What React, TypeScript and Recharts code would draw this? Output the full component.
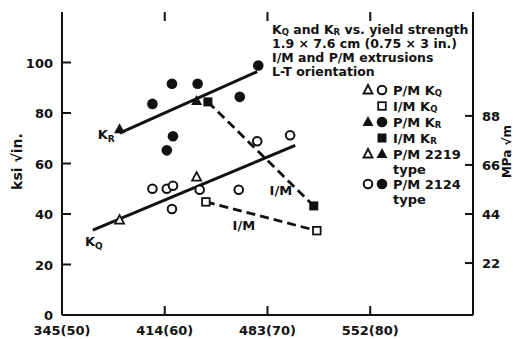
import React from 'react';
import { ComposedChart, Scatter, XAxis, YAxis, Legend } from 'recharts';

const FONT = '"DejaVu Sans", Verdana, sans-serif';
const INK = '#111';
const TOP = 12; // chart top margin = upper frame line

// yield strength (ksi) vs toughness (ksi sqrt(in.))
const pmKqCircles = [
  { x: 58.8, y: 50 },
  { x: 60.2, y: 50 },
  { x: 60.8, y: 51.2 },
  { x: 60.7, y: 42 },
  { x: 63.4, y: 49.6 },
  { x: 67.2, y: 49.6 },
  { x: 69.0, y: 68.8 },
  { x: 72.2, y: 71.2 },
];
const pmKqTriangles = [
  { x: 55.6, y: 37.6 },
  { x: 63.1, y: 54.6 },
];
const imKqSquares = [
  { x: 64.0, y: 44.8 },
  { x: 74.8, y: 33.4 },
];
const pmKrCircles = [
  { x: 58.8, y: 83.6 },
  { x: 60.7, y: 91.6 },
  { x: 63.2, y: 91.6 },
  { x: 60.8, y: 70.8 },
  { x: 60.2, y: 65.2 },
  { x: 67.3, y: 86.4 },
  { x: 69.1, y: 98.8 },
];
const pmKrTriangles = [
  { x: 55.6, y: 73.6 },
  { x: 63.1, y: 84.8 },
];
const imKrSquares = [
  { x: 64.2, y: 84.4 },
  { x: 74.5, y: 43.2 },
];
const krFit = [
  { x: 55.6, y: 72 },
  { x: 69.0, y: 96.4 },
];
const kqFit = [
  { x: 53.0, y: 33.6 },
  { x: 72.7, y: 67.2 },
];
const curveLabels = [
  { x: 54.3, y: 71.6, text: 'K_R' },
  { x: 53.1, y: 29.2, text: 'K_Q' },
  { x: 71.3, y: 49.6, text: 'I/M' },
  { x: 67.7, y: 35.6, text: 'I/M' },
];

const xTicks = [50, 60, 70, 80];
const xTickLabels = ['345(50)', '414(60)', '483(70)', '552(80)'];
const yTicks = [0, 20, 40, 60, 80, 100];
const mpaTicks = [22, 44, 66, 88];

const titleLines = [
  'K_Q and K_R vs. yield strength',
  '1.9 × 7.6 cm (0.75 × 3 in.)',
  'I/M and P/M extrusions',
  'L-T orientation',
];
const legendRows = [
  { symbols: ['openTri', 'openCircle'], text: 'P/M K_Q' },
  { symbols: ['openSquare'], text: 'I/M K_Q' },
  { symbols: ['fillTri', 'fillCircle'], text: 'P/M K_R' },
  { symbols: ['fillSquare'], text: 'I/M K_R' },
  { symbols: ['openTri', 'fillTri'], text: 'P/M 2219' },
  { symbols: null, text: 'type' },
  { symbols: ['openCircle', 'fillCircle'], text: 'P/M 2124' },
  { symbols: null, text: 'type' },
];

const Marker = ({ kind, cx, cy }) => {
  switch (kind) {
    case 'openCircle':
      return <circle cx={cx} cy={cy} r={4.3} fill="#fff" stroke={INK} strokeWidth={2} />;
    case 'fillCircle':
      return <circle cx={cx} cy={cy} r={5.3} fill={INK} />;
    case 'openTri':
      return (
        <polygon
          points={`${cx},${cy - 5} ${cx + 4.5},${cy + 3.5} ${cx - 4.5},${cy + 3.5}`}
          fill="#fff"
          stroke={INK}
          strokeWidth={1.8}
        />
      );
    case 'fillTri':
      return <polygon points={`${cx},${cy - 6} ${cx + 5.5},${cy + 4} ${cx - 5.5},${cy + 4}`} fill={INK} />;
    case 'openSquare':
      return <rect x={cx - 3.8} y={cy - 3.8} width={7.6} height={7.6} fill="#fff" stroke={INK} strokeWidth={1.8} />;
    case 'fillSquare':
      return <rect x={cx - 4.5} y={cy - 4.5} width={9} height={9} fill={INK} />;
    default:
      return <g />;
  }
};

// "K_Q" -> K with subscript Q
const htmlSub = (s) =>
  s.split(/(K_[QR])/).map((part, i) =>
    part.startsWith('K_') ? (
      <span key={i}>
        K<span style={{ fontSize: 8.5, verticalAlign: -1, lineHeight: 0 }}>{part[2]}</span>
      </span>
    ) : (
      <span key={i}>{part}</span>
    )
  );

const LegendBox = () => (
  <div style={{ fontFamily: FONT, fontWeight: 700, fontSize: 12.5, color: INK, whiteSpace: 'nowrap' }}>
    {titleLines.map((l, i) => (
      <div key={i} style={{ height: 14, lineHeight: '14px' }}>
        {htmlSub(l)}
      </div>
    ))}
    <div style={{ height: 3 }} />
    {legendRows.map((r, i) => (
      <div
        key={i}
        style={{ display: 'flex', alignItems: 'center', height: r.symbols ? 16 : 14, fontSize: 13 }}
      >
        <svg width={28} height={14} style={{ marginLeft: 90, marginRight: 3 }}>
          {(r.symbols || []).map((k, j) => (
            <Marker key={j} kind={k} cx={r.symbols.length === 1 ? 20 : 6 + j * 14} cy={7} />
          ))}
        </svg>
        <span>{htmlSub(r.text)}</span>
      </div>
    ))}
  </div>
);

// bottom tick also draws its twin on the upper frame
const BottomTick = ({ x, y, payload }) => (
  <g>
    <line x1={x} y1={y} x2={x} y2={y - 9} stroke={INK} strokeWidth={2} />
    {payload.value !== xTicks[0] && <line x1={x} y1={TOP} x2={x} y2={TOP + 9} stroke={INK} strokeWidth={2} />}
    <text x={x} y={y + 20} textAnchor="middle" fontFamily={FONT} fontWeight={700} fontSize={13} fill={INK}>
      {xTickLabels[xTicks.indexOf(payload.value)]}
    </text>
  </g>
);

const LeftTick = ({ x, y, payload }) => (
  <g>
    <line x1={x} y1={y} x2={x + 9} y2={y} stroke={INK} strokeWidth={2} />
    <text x={x - 9} y={y + 5} textAnchor="end" fontFamily={FONT} fontWeight={700} fontSize={13} fill={INK}>
      {payload.value}
    </text>
  </g>
);

const RightTick = ({ x, y, payload }) => (
  <g>
    <line x1={x - 8} y1={y} x2={x} y2={y} stroke={INK} strokeWidth={2} />
    <text x={x + 9} y={y + 5} textAnchor="start" fontFamily={FONT} fontWeight={700} fontSize={13} fill={INK}>
      {payload.value}
    </text>
  </g>
);

const AxisTitle = ({ viewBox, value, dx, dy, size }) => {
  const cx = viewBox.x + dx;
  const cy = viewBox.y + viewBox.height / 2 + dy;
  return (
    <text
      x={cx}
      y={cy}
      transform={`rotate(-90, ${cx}, ${cy})`}
      textAnchor="middle"
      dominantBaseline="central"
      fontFamily={FONT}
      fontWeight={700}
      fontSize={size}
      fill={INK}
    >
      {value}
    </text>
  );
};

const LabelShape = ({ cx, cy, payload }) => {
  const [main, sub] = payload.text.split('_');
  return (
    <text x={cx} y={cy + 5} textAnchor="middle" fontFamily={FONT} fontWeight={700} fontSize={13} fill={INK}>
      {main}
      {sub && (
        <tspan dy={3} fontSize={9}>
          {sub}
        </tspan>
      )}
    </text>
  );
};

const solid = { stroke: INK, strokeWidth: 3 };
const dashed = { stroke: INK, strokeWidth: 2.8, strokeDasharray: '9 5' };
const none = () => <g />;

export default function App() {
  return (
    <div style={{ position: 'absolute', left: 0, top: 0, background: '#fff' }}>
      <ComposedChart width={516} height={339} margin={{ top: TOP, right: 0, bottom: 0, left: 0 }}>
        <XAxis
          type="number"
          dataKey="x"
          domain={[50, 90]}
          ticks={xTicks}
          interval={0}
          tick={<BottomTick />}
          tickLine={false}
          tickSize={0}
          tickMargin={0}
          height={24}
          axisLine={{ stroke: INK, strokeWidth: 2 }}
          allowDataOverflow
        />
        <XAxis
          xAxisId="top"
          orientation="top"
          type="number"
          dataKey="x"
          domain={[50, 90]}
          tick={false}
          tickLine={false}
          height={0}
          axisLine={{ stroke: INK, strokeWidth: 2 }}
          allowDataOverflow
        />
        <YAxis
          type="number"
          dataKey="y"
          domain={[0, 120]}
          ticks={yTicks}
          interval={0}
          tick={<LeftTick />}
          tickLine={false}
          tickSize={0}
          tickMargin={0}
          width={62}
          axisLine={{ stroke: INK, strokeWidth: 2 }}
          allowDataOverflow
          label={{ value: 'ksi √in.', content: (p) => <AxisTitle {...p} value="ksi √in." dx={17} dy={-2} size={14} /> }}
        />
        <YAxis
          yAxisId="right"
          orientation="right"
          type="number"
          dataKey="y"
          domain={[-1.3, 134.6]}
          ticks={mpaTicks}
          interval={0}
          tick={<RightTick />}
          tickLine={false}
          tickSize={0}
          tickMargin={0}
          width={43}
          axisLine={{ stroke: INK, strokeWidth: 2 }}
          allowDataOverflow
          label={{ value: 'MPa √m', content: (p) => <AxisTitle {...p} value="MPa √m" dx={34} dy={-12} size={12} /> }}
        />

        <Scatter data={krFit} line={solid} lineType="joint" shape={none} isAnimationActive={false} />
        <Scatter data={kqFit} line={solid} lineType="joint" shape={none} isAnimationActive={false} />
        <Scatter
          data={imKrSquares}
          line={dashed}
          lineType="joint"
          shape={(p) => <Marker kind="fillSquare" cx={p.cx} cy={p.cy} />}
          isAnimationActive={false}
        />
        <Scatter
          data={imKqSquares}
          line={dashed}
          lineType="joint"
          shape={(p) => <Marker kind="openSquare" cx={p.cx} cy={p.cy} />}
          isAnimationActive={false}
        />
        <Scatter data={pmKqCircles} shape={(p) => <Marker kind="openCircle" cx={p.cx} cy={p.cy} />} isAnimationActive={false} />
        <Scatter data={pmKqTriangles} shape={(p) => <Marker kind="openTri" cx={p.cx} cy={p.cy} />} isAnimationActive={false} />
        <Scatter data={pmKrCircles} shape={(p) => <Marker kind="fillCircle" cx={p.cx} cy={p.cy} />} isAnimationActive={false} />
        <Scatter data={pmKrTriangles} shape={(p) => <Marker kind="fillTri" cx={p.cx} cy={p.cy} />} isAnimationActive={false} />
        <Scatter data={curveLabels} shape={(p) => <LabelShape {...p} />} isAnimationActive={false} />

        <Legend
          layout="vertical"
          align="center"
          verticalAlign="middle"
          content={() => <LegendBox />}
          wrapperStyle={{ top: 23, left: 272, width: 200 }}
        />
      </ComposedChart>
    </div>
  );
}
